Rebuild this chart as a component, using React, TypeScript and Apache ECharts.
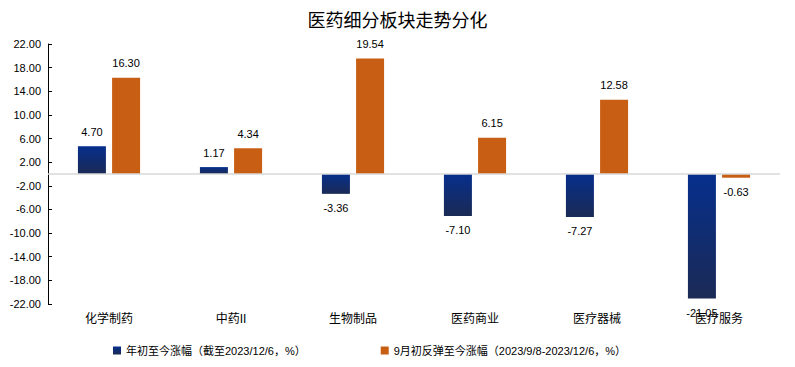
import React, { useEffect, useRef } from "react";
import * as echarts from "echarts";

const categories = ["化学制药", "中药II", "生物制品", "医药商业", "医疗器械", "医疗服务"];
const ytdValues = [4.7, 1.17, -3.36, -7.1, -7.27, -21.05];
const reboundValues = [16.3, 4.34, 19.54, 6.15, 12.58, -0.63];
const yTicks = [-22, -18, -14, -10, -6, -2, 2, 6, 10, 14, 18, 22];
const seriesNames = ["年初至今涨幅（截至2023/12/6，%）", "9月初反弹至今涨幅（2023/9/8-2023/12/6，%）"];
const title = "医药细分板块走势分化";

const FONT = "'Liberation Sans', 'Noto Sans CJK SC', sans-serif";

function toData(vals: number[]) {
  return vals.map((v) => ({
    value: v,
    label: { position: v >= 0 ? "top" : "bottom" },
  }));
}

export default function App() {
  const ref = useRef<HTMLDivElement>(null);
  useEffect(() => {
    if (!ref.current) return;
    const chart = echarts.init(ref.current, undefined, { renderer: "svg" });
    const labelCfg = {
      show: true,
      fontSize: 11,
      color: "#000",
      fontFamily: FONT,
      distance: 9,
      formatter: (p: any) => Number(p.value).toFixed(2),
    };
    chart.setOption({
      animation: false,
      backgroundColor: "#fff",
      textStyle: { fontFamily: FONT },
      title: {
        text: title,
        left: "center",
        top: 7,
        textStyle: { fontSize: 18, fontWeight: "normal", color: "#000", fontFamily: FONT },
      },
      graphic: [
        {
          type: "rect",
          shape: { x: 1.5, y: 0.5, width: 790, height: 362 },
          style: { fill: "none", stroke: "#d9d9d9", lineWidth: 1 },
          silent: true,
        },
      ],
      legend: {
        left: 108,
        top: 340,
        itemWidth: 8,
        itemHeight: 8,
        itemGap: 75,
        icon: "rect",
        textStyle: { fontSize: 11, color: "#000", fontFamily: FONT },
        data: seriesNames,
      },
      grid: { left: 48, right: 15, top: 44, bottom: 63, containLabel: false },
      xAxis: {
        type: "category",
        data: categories,
        axisLine: { show: false, onZero: false },
        axisTick: { show: false },
        axisLabel: { color: "#000", fontSize: 12, margin: 9, fontFamily: FONT },
      },
      yAxis: {
        type: "value",
        min: -22,
        max: 22,
        axisLine: { show: true, lineStyle: { color: "#000", width: 1 } },
        axisTick: { show: true, inside: true, length: 4, customValues: yTicks, lineStyle: { color: "#000" } },
        axisLabel: {
          customValues: yTicks,
          color: "#000",
          fontSize: 11,
          margin: 7,
          fontFamily: FONT,
          formatter: (v: number) => v.toFixed(2),
        },
        splitLine: { show: false },
      },
      series: [
        {
          name: seriesNames[0],
          type: "bar",
          data: toData(ytdValues),
          barWidth: 28,
          barGap: "22%",
          itemStyle: {
            color: new echarts.graphic.LinearGradient(0, 0, 0, 1, [
              { offset: 0, color: "#062f8c" },
              { offset: 1, color: "#1b2a55" },
            ]),
          },
          label: labelCfg,
          markLine: {
            silent: true,
            symbol: "none",
            label: { show: false },
            lineStyle: { color: "#d9d9d9", type: "solid", width: 1.5 },
            data: [{ yAxis: 0 }],
          },
          z: 3,
        },
        {
          name: seriesNames[1],
          type: "bar",
          data: toData(reboundValues),
          barWidth: 28,
          itemStyle: { color: "#c85e14" },
          label: labelCfg,
          z: 3,
        },
      ],
    });
    return () => chart.dispose();
  }, []);
  return <div ref={ref} style={{ width: 795, height: 367, margin: -8 }} />;
}
